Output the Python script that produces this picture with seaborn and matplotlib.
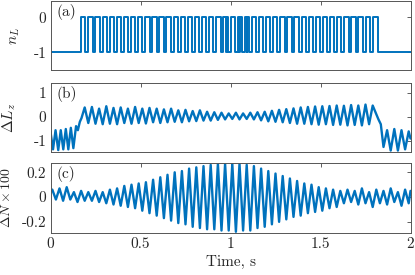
import numpy as np
import pandas as pd
import seaborn as sns
import matplotlib
matplotlib.use("Agg")
import matplotlib.pyplot as plt

# ===============================
# 1. DATA
# ===============================
time_ticks = [0, 0.5, 1, 1.5, 2]
time_tick_labels = ["0", "0.5", "1", "1.5", "2"]

# (a) n_L : pulses (switch-on, switch-off), level -1 otherwise
nL_on = [0.170, 0.210, 0.249, 0.289, 0.328, 0.368, 0.407, 0.447, 0.486, 0.526,
         0.565, 0.605, 0.644, 0.684, 0.723, 0.763, 0.802, 0.842, 0.881, 0.921,
         0.960, 0.978, 1.000, 1.039, 1.053, 1.079, 1.093, 1.118,
         1.158, 1.197, 1.237, 1.276, 1.316, 1.355, 1.395, 1.434, 1.474,
         1.513, 1.553, 1.592, 1.632, 1.671, 1.711, 1.750, 1.790]
nL_off = [0.194, 0.234, 0.273, 0.313, 0.352, 0.392, 0.431, 0.471, 0.510, 0.550,
          0.589, 0.629, 0.668, 0.708, 0.747, 0.787, 0.826, 0.866, 0.905, 0.945,
          0.974, 0.984, 1.024, 1.049, 1.063, 1.089, 1.103, 1.142,
          1.182, 1.221, 1.261, 1.300, 1.340, 1.379, 1.419, 1.458, 1.498,
          1.537, 1.577, 1.616, 1.656, 1.695, 1.735, 1.774, 1.818]

# (b) Delta L_z : start-up part, switching part (peaks / troughs), end part
lz_start_t = [0.000, 0.014, 0.028, 0.043, 0.057, 0.071, 0.085, 0.099, 0.113,
              0.127, 0.142, 0.152, 0.163, 0.172]
lz_start_v = [-0.62, -1.35, -0.55, -1.38, -0.55, -1.35, -0.50, -1.35, -0.45,
              -1.30, -0.38, -0.55, -0.20, -0.05]
lz_peak_t = [0.19, 0.23, 0.27, 0.31, 0.35, 0.39, 0.43, 0.47, 0.51, 0.55,
             0.59, 0.63, 0.67, 0.71, 0.75, 0.79, 0.83, 0.87, 0.91, 0.95,
             0.99, 1.03, 1.07, 1.11, 1.15, 1.19, 1.23, 1.27, 1.31, 1.35,
             1.39, 1.43, 1.47, 1.51, 1.55, 1.59, 1.63, 1.67, 1.71, 1.75, 1.79]
lz_peak = [0.40, 0.42, 0.35, 0.45, 0.38, 0.40, 0.35, 0.42, 0.35, 0.38,
           0.35, 0.32, 0.35, 0.28, 0.30, 0.25, 0.28, 0.22, 0.20, 0.18,
           0.15, 0.18, 0.15, 0.18, 0.20, 0.22, 0.26, 0.30, 0.33, 0.36,
           0.40, 0.42, 0.44, 0.45, 0.46, 0.48, 0.47, 0.50, 0.48, 0.52, 0.48]
lz_trough = [-0.25, -0.28, -0.30, -0.28, -0.30, -0.25, -0.28, -0.25, -0.27, -0.22,
             -0.25, -0.22, -0.20, -0.22, -0.18, -0.17, -0.15, -0.15, -0.12, -0.10,
             -0.08, -0.10, -0.08, -0.10, -0.14, -0.18, -0.20, -0.22, -0.25, -0.28,
             -0.28, -0.30, -0.32, -0.30, -0.33, -0.32, -0.35, -0.33, -0.35, -0.30]
lz_end_t = [1.822, 1.835, 1.850, 1.870, 1.890, 1.910, 1.930, 1.950, 1.970, 1.990, 2.000]
lz_end_v = [-0.10, -0.30, -1.25, -0.55, -1.40, -0.50, -1.40, -0.55, -1.35, -0.60, -0.90]

# (c) Delta N x 100 : peaks / troughs of each cycle
dn_peak_t = [0.01, 0.05, 0.09, 0.13, 0.17, 0.21, 0.25, 0.29, 0.33, 0.37,
             0.41, 0.45, 0.49, 0.53, 0.57, 0.61, 0.65, 0.69, 0.73, 0.77,
             0.81, 0.85, 0.89, 0.93, 0.97, 1.01, 1.05, 1.09, 1.13, 1.17,
             1.21, 1.25, 1.29, 1.33, 1.37, 1.41, 1.45, 1.49, 1.53, 1.57,
             1.61, 1.65, 1.69, 1.73, 1.77, 1.81, 1.85, 1.89, 1.93, 1.97]
dn_peak = [0.06, 0.07, 0.08, 0.04, 0.05, 0.04, 0.05, 0.04, 0.06, 0.07,
           0.09, 0.10, 0.11, 0.12, 0.14, 0.16, 0.18, 0.20, 0.21, 0.23,
           0.24, 0.25, 0.26, 0.27, 0.27, 0.27, 0.27, 0.26, 0.25, 0.23,
           0.21, 0.19, 0.17, 0.15, 0.13, 0.11, 0.10, 0.08, 0.07, 0.06,
           0.05, 0.06, 0.05, 0.07, 0.04, 0.06, 0.05, 0.07, 0.04, 0.06]
dn_trough = [-0.02, -0.03, -0.02, -0.04, -0.03, -0.03, -0.04, -0.05, -0.06, -0.07,
             -0.08, -0.09, -0.11, -0.13, -0.15, -0.17, -0.19, -0.21, -0.22, -0.24,
             -0.25, -0.26, -0.26, -0.27, -0.27, -0.28, -0.27, -0.27, -0.25, -0.24,
             -0.22, -0.20, -0.18, -0.16, -0.15, -0.13, -0.12, -0.11, -0.09, -0.08,
             -0.05, -0.04, -0.06, -0.05, -0.08, -0.05, -0.06, -0.04, -0.07, -0.05]
dn_first = 0.05
dn_last = 0.05

# ===============================
# 2. BUILD CURVES
# ===============================
nL_t, nL_v = [0.0], [-1]
for on, off in zip(nL_on, nL_off):
    nL_t += [on, on, off, off]
    nL_v += [-1, 0, 0, -1]
nL_t.append(2.0)
nL_v.append(-1)
df_a = pd.DataFrame({"t": nL_t, "v": nL_v})

lz_t, lz_v = list(lz_start_t), list(lz_start_v)
for i, tp in enumerate(lz_peak_t):
    lz_t.append(tp)
    lz_v.append(lz_peak[i])
    if i < len(lz_trough):
        lz_t.append(tp + 0.02)
        lz_v.append(lz_trough[i])
lz_t += lz_end_t
lz_v += lz_end_v
df_b = pd.DataFrame({"t": lz_t, "v": lz_v})

dn_t, dn_v = [0.0], [dn_first]
for tp, hi, lo in zip(dn_peak_t, dn_peak, dn_trough):
    dn_t += [tp, tp + 0.02]
    dn_v += [hi, lo]
dn_t.append(2.0)
dn_v.append(dn_last)
df_c = pd.DataFrame({"t": dn_t, "v": dn_v})

# ===============================
# 3. PLOT
# ===============================
sns.set_style("white")
plt.rcParams["font.family"] = ["cmr10", "DejaVu Serif"]
plt.rcParams["mathtext.fontset"] = "cm"
plt.rcParams["axes.unicode_minus"] = False
plt.rcParams["font.size"] = 11

blue = "#0072BD"
txt = "#262626"

fig = plt.figure(figsize=(4.15, 2.75), dpi=100)
W, H = 415, 275
left, right = 50.5, 410.5
boxes = [(1, 70), (83, 152), (163, 233)]
axes = [fig.add_axes([left / W, 1 - b / H, (right - left) / W, (b - t) / H])
        for t, b in boxes]
ax_a, ax_b, ax_c = axes

sns.lineplot(data=df_a, x="t", y="v", ax=ax_a, color=blue, lw=1.4,
             estimator=None, sort=False)
sns.lineplot(data=df_b, x="t", y="v", ax=ax_b, color=blue, lw=1.7,
             estimator=None, sort=False, solid_joinstyle="round")
sns.lineplot(data=df_c, x="t", y="v", ax=ax_c, color=blue, lw=1.7,
             estimator=None, sort=False, solid_joinstyle="round")

ax_a.set_ylim(-1.5, 0.46)
ax_a.set_yticks([-1, 0])
ax_a.set_yticklabels(["-1", "0"])
ax_b.set_ylim(-1.46, 1.42)
ax_b.set_yticks([-1, 0, 1])
ax_b.set_yticklabels(["-1", "0", "1"])
ax_c.set_ylim(-0.29, 0.275)
ax_c.set_yticks([-0.2, 0, 0.2])
ax_c.set_yticklabels(["-0.2", "0", "0.2"])

ylabels = [r"$n_L$", r"$\Delta L_z$", r"$\Delta N \times 100$"]
ylab_x = [-0.08, -0.09, -0.103]
ylab_size = [11, 11, 10]
panel = ["(a)", "(b)", "(c)"]
for ax, lab, lx, fs, p in zip(axes, ylabels, ylab_x, ylab_size, panel):
    ax.set_xlim(0, 2)
    ax.set_xticks(time_ticks)
    ax.set_xlabel("")
    ax.set_ylabel(lab, color=txt, fontsize=fs)
    ax.yaxis.set_label_coords(lx, 0.5)
    ax.tick_params(direction="in", top=True, right=True, length=3, width=0.6,
                   colors="#444444", labelcolor=txt, labelsize=11, pad=3)
    for s in ax.spines.values():
        s.set_color("#555555")
        s.set_linewidth(0.7)
    ax.text(0.018, 0.96, p, transform=ax.transAxes, ha="left", va="top",
            color=txt, fontsize=11)

ax_a.set_xticklabels([])
ax_b.set_xticklabels([])
ax_c.set_xticklabels(time_tick_labels)
ax_c.set_xlabel("Time, s", color=txt, fontsize=11, labelpad=3)

fig.savefig("out.png", dpi=100)
